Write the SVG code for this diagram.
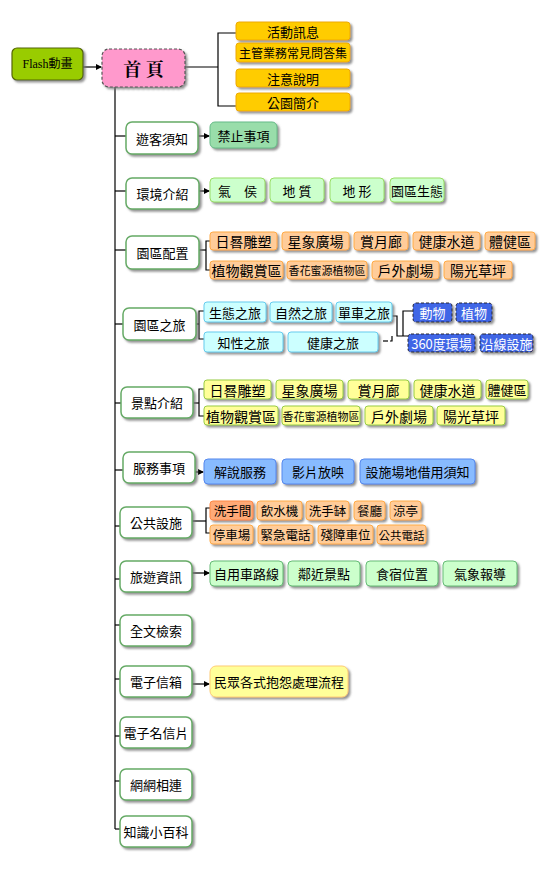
<svg xmlns="http://www.w3.org/2000/svg" width="548" height="870" viewBox="0 0 548 870">
<defs>
<filter id="sh" x="-10%" y="-10%" width="130%" height="140%">
<feDropShadow dx="2" dy="2" stdDeviation="0.8" flood-color="#777" flood-opacity="0.8"/>
</filter>
<marker id="ar" markerWidth="6" markerHeight="6" refX="5" refY="3" orient="auto" markerUnits="userSpaceOnUse">
<path d="M0,0 L6,3 L0,6 Z" fill="#000"/>
</marker>
<style>
text{font-family:"Noto Sans CJK TC","Noto Sans CJK SC",sans-serif;font-size:13px;fill:#000;text-anchor:middle;dominant-baseline:central}
rect{filter:url(#sh)}
.main{fill:#fff;stroke:#66aa66;stroke-width:1.5}
.yel{fill:#ffcc00;stroke:#eeaa00}
.grn1{fill:#99ddaa;stroke:#66bb88}
.grn2{fill:#ccffcc;stroke:#99dd66}
.grn3{fill:#ccffcc;stroke:#66bb77}
.org{fill:#ffcc99;stroke:#ffaa44}
.org2{fill:#ffaa77;stroke:#ff8844}
.cyan{fill:#ccffff;stroke:#66ccee}
.blue{fill:#3f66e6;stroke:#223;stroke-dasharray:3 2}
.lyel{fill:#ffff99;stroke:#99cc44}
.lyel2{fill:#ffff99;stroke:#ffcc77}
.lblue{fill:#88bbff;stroke:#5588ee}
.w{fill:#fff}
.big{font-size:14px}
.pf{font-size:12.5px}
#conn path,#conn line{fill:none;stroke:#000;stroke-width:1.2}
</style>
</defs>
<rect width="548" height="870" fill="#fff" style="filter:none"/>

<g id="conn">
<line x1="83" y1="67" x2="101" y2="67" marker-end="url(#ar)"/>
<path d="M185,67 H218"/>
<path d="M236,33 H218 V106 H236"/>
<path d="M115,87 V829"/>
<path d="M115,136 H126"/>
<path d="M115,191 H126"/>
<path d="M115,250 H126"/>
<path d="M115,324 H123"/>
<path d="M115,403 H121"/>
<path d="M115,470 H123"/>
<path d="M115,526 H120"/>
<path d="M115,579 H120"/>
<path d="M115,625 H120"/>
<path d="M115,679 H120"/>
<path d="M115,736 H120"/>
<path d="M115,781 H120"/>
<path d="M115,829 H120"/>
<line x1="198" y1="136" x2="209" y2="136" marker-end="url(#ar)"/>
<line x1="199" y1="191" x2="209" y2="191" marker-end="url(#ar)"/>
<path d="M199,250 H206"/>
<path d="M210,241 H206 V270 H210"/>
<path d="M196,324 H199"/>
<path d="M204,311 H199 V339 H204"/>
<path d="M392,316 H397 V336 H408"/>
<path d="M413,311 H403 V336"/>
<path d="M383,341 H388"/>
<path d="M390,341 H392 V336"/>
<path d="M193,403 H199"/>
<path d="M204,389 H199 V416 H204"/>
<line x1="195" y1="472" x2="203" y2="472" marker-end="url(#ar)"/>
<path d="M192,521 H206"/>
<path d="M210,508 H206 V533 H210"/>
<line x1="192" y1="573" x2="209" y2="573" marker-end="url(#ar)"/>
<line x1="192" y1="684" x2="209" y2="684" marker-end="url(#ar)"/>
</g>

<g id="flash"><rect x="12" y="48" width="71" height="32" rx="5" fill="#99cc00" stroke="#556600" stroke-width="1.2"/><text x="47.5" y="64" style="font-family:'Liberation Serif','Noto Sans CJK TC',serif;font-size:12px">Flash動畫</text></g>
<g id="home"><rect x="102" y="49" width="83" height="38" rx="7" fill="#ff99cc" stroke="#555" stroke-dasharray="3 2" stroke-width="1.2"/><text x="143.5" y="68" style="font-size:18px;font-weight:bold;font-family:'Noto Serif CJK TC','Noto Sans CJK TC',serif">首 頁</text></g>

<g id="y1"><rect class="yel" x="236" y="22" width="114" height="18" rx="3"/><text x="293" y="31">活動訊息</text></g>
<g id="y2"><rect class="yel" x="236" y="43" width="114" height="19" rx="3"/><text x="293" y="52.5" style="font-size:12px">主管業務常見問答集</text></g>
<g id="y3"><rect class="yel" x="236" y="69" width="114" height="18" rx="3"/><text x="293" y="78">注意說明</text></g>
<g id="y4"><rect class="yel" x="236" y="93" width="114" height="18" rx="3"/><text x="293" y="102">公園簡介</text></g>

<g id="m1"><rect class="main" x="126" y="122" width="72" height="32" rx="6"/><text x="162" y="138">遊客須知</text></g>
<g id="c1"><rect class="grn1" x="210" y="122" width="67" height="26" rx="5"/><text x="243.5" y="135">禁止事項</text></g>

<g id="m2"><rect class="main" x="126" y="178" width="73" height="31" rx="6"/><text x="162.5" y="193.5">環境介紹</text></g>
<g id="c2a"><rect class="grn2" x="210" y="178" width="55" height="24" rx="4"/><text x="237.5" y="190">氣　侯</text></g>
<g id="c2b"><rect class="grn2" x="270" y="178" width="54" height="24" rx="4"/><text x="297" y="190">地 質</text></g>
<g id="c2c"><rect class="grn2" x="330" y="178" width="54" height="24" rx="4"/><text x="357" y="190">地 形</text></g>
<g id="c2d"><rect class="grn2" x="390" y="178" width="54" height="24" rx="4"/><text x="417" y="190">園區生態</text></g>

<g id="m3"><rect class="main" x="126" y="236" width="73" height="33" rx="6"/><text x="162.5" y="252.5">園區配置</text></g>
<g id="c3a"><rect class="org" x="210" y="232" width="67" height="18" rx="3"/><text class="big" x="243.5" y="241">日晷雕塑</text></g>
<g id="c3b"><rect class="org" x="282" y="232" width="67" height="18" rx="3"/><text class="big" x="315.5" y="241">星象廣場</text></g>
<g id="c3c"><rect class="org" x="354" y="232" width="54" height="18" rx="3"/><text class="big" x="381" y="241">賞月廊</text></g>
<g id="c3d"><rect class="org" x="413" y="232" width="67" height="18" rx="3"/><text class="big" x="446.5" y="241">健康水道</text></g>
<g id="c3e"><rect class="org" x="485" y="232" width="50" height="18" rx="3"/><text class="big" x="510" y="241">體健區</text></g>
<g id="c3f"><rect class="org" x="210" y="261" width="73" height="18" rx="3"/><text class="big" x="246.5" y="270">植物觀賞區</text></g>
<g id="c3g"><rect class="org" x="287" y="261" width="80" height="18" rx="3"/><text x="327" y="270" style="font-size:11px">香花蜜源植物區</text></g>
<g id="c3h"><rect class="org" x="372" y="261" width="67" height="18" rx="3"/><text class="big" x="405.5" y="270">戶外劇場</text></g>
<g id="c3i"><rect class="org" x="444" y="261" width="68" height="18" rx="3"/><text class="big" x="478" y="270">陽光草坪</text></g>

<g id="m4"><rect class="main" x="123" y="308" width="73" height="32" rx="6"/><text x="159.5" y="324">園區之旅</text></g>
<g id="c4a"><rect class="cyan" x="204" y="302" width="62" height="20" rx="3"/><text x="235" y="312">生態之旅</text></g>
<g id="c4b"><rect class="cyan" x="270" y="302" width="62" height="20" rx="3"/><text x="301" y="312">自然之旅</text></g>
<g id="c4c"><rect class="cyan" x="336" y="302" width="56" height="20" rx="3"/><text x="364" y="312">單車之旅</text></g>
<g id="c4d"><rect class="cyan" x="204" y="332" width="79" height="20" rx="3"/><text x="243.5" y="342">知性之旅</text></g>
<g id="c4e"><rect class="cyan" x="288" y="332" width="90" height="20" rx="3"/><text x="333" y="342">健康之旅</text></g>
<g id="b1"><rect class="blue" x="413" y="303" width="39" height="19" rx="3"/><text class="w" x="432.5" y="312.5">動物</text></g>
<g id="b2"><rect class="blue" x="456" y="303" width="36" height="19" rx="3"/><text class="w" x="474" y="312.5">植物</text></g>
<g id="b3"><rect class="blue" x="408" y="334" width="67" height="18" rx="3"/><text class="w" x="441.5" y="343">360度環場</text></g>
<g id="b4"><rect class="blue" x="480" y="334" width="53" height="18" rx="3"/><text class="w" x="506.5" y="343">沿線設施</text></g>

<g id="m5"><rect class="main" x="121" y="387" width="72" height="31" rx="6"/><text x="157" y="402.5">景點介紹</text></g>
<g id="c5a"><rect class="lyel" x="204" y="380" width="67" height="19" rx="3"/><text class="big" x="237.5" y="389.5">日晷雕塑</text></g>
<g id="c5b"><rect class="lyel" x="276" y="380" width="67" height="19" rx="3"/><text class="big" x="309.5" y="389.5">星象廣場</text></g>
<g id="c5c"><rect class="lyel" x="348" y="380" width="61" height="19" rx="3"/><text class="big" x="378.5" y="389.5">賞月廊</text></g>
<g id="c5d"><rect class="lyel" x="414" y="380" width="67" height="19" rx="3"/><text class="big" x="447.5" y="389.5">健康水道</text></g>
<g id="c5e"><rect class="lyel" x="486" y="380" width="42" height="19" rx="3"/><text x="507" y="389.5">體健區</text></g>
<g id="c5f"><rect class="lyel" x="204" y="406" width="74" height="19" rx="3"/><text class="big" x="241" y="415.5">植物觀賞區</text></g>
<g id="c5g"><rect class="lyel" x="282" y="406" width="78" height="19" rx="3"/><text x="321" y="415.5" style="font-size:11px">香花蜜源植物區</text></g>
<g id="c5h"><rect class="lyel" x="365" y="406" width="68" height="19" rx="3"/><text class="big" x="399" y="415.5">戶外劇場</text></g>
<g id="c5i"><rect class="lyel" x="437" y="406" width="68" height="19" rx="3"/><text class="big" x="471" y="415.5">陽光草坪</text></g>

<g id="m6"><rect class="main" x="123" y="452" width="72" height="31" rx="6"/><text x="159" y="467.5">服務事項</text></g>
<g id="c6a"><rect class="lblue" x="204" y="459" width="72" height="25" rx="4"/><text x="240" y="471.5">解說服務</text></g>
<g id="c6b"><rect class="lblue" x="282" y="459" width="72" height="25" rx="4"/><text x="318" y="471.5">影片放映</text></g>
<g id="c6c"><rect class="lblue" x="360" y="459" width="115" height="25" rx="4"/><text x="417.5" y="471.5">設施場地借用須知</text></g>

<g id="m7"><rect class="main" x="120" y="507" width="72" height="31" rx="6"/><text x="156" y="522.5">公共設施</text></g>
<g id="c7a"><rect class="org2" x="210" y="501" width="43" height="19" rx="3"/><text class="pf" x="232.5" y="510.5">洗手間</text></g>
<g id="c7b"><rect class="org" x="257" y="501" width="45" height="19" rx="3"/><text class="pf" x="279.5" y="510.5">飲水機</text></g>
<g id="c7c"><rect class="org" x="306" y="501" width="43" height="19" rx="3"/><text class="pf" x="327.5" y="510.5">洗手缽</text></g>
<g id="c7d"><rect class="org" x="354" y="501" width="31" height="19" rx="3"/><text class="pf" x="369.5" y="510.5">餐廳</text></g>
<g id="c7e"><rect class="org" x="390" y="501" width="31" height="19" rx="3"/><text class="pf" x="405.5" y="510.5">涼亭</text></g>
<g id="c7f"><rect class="org" x="210" y="525" width="43" height="19" rx="3"/><text class="pf" x="231.5" y="534.5">停車場</text></g>
<g id="c7g"><rect class="org" x="258" y="525" width="55" height="19" rx="3"/><text class="pf" x="285.5" y="534.5">緊急電話</text></g>
<g id="c7h"><rect class="org" x="318" y="525" width="55" height="19" rx="3"/><text class="pf" x="345.5" y="534.5">殘障車位</text></g>
<g id="c7i"><rect class="org" x="377" y="525" width="49" height="19" rx="3"/><text x="401.5" y="534.5" style="font-size:11.5px">公共電話</text></g>

<g id="m8"><rect class="main" x="120" y="561" width="72" height="31" rx="6"/><text x="156" y="576.5">旅遊資訊</text></g>
<g id="c8a"><rect class="grn3" x="210" y="561" width="73" height="25" rx="4"/><text x="246.5" y="573.5">自用車路線</text></g>
<g id="c8b"><rect class="grn3" x="288" y="561" width="72" height="25" rx="4"/><text x="324" y="573.5">鄰近景點</text></g>
<g id="c8c"><rect class="grn3" x="366" y="561" width="72" height="25" rx="4"/><text x="402" y="573.5">食宿位置</text></g>
<g id="c8d"><rect class="grn3" x="443" y="561" width="74" height="25" rx="4"/><text x="480" y="573.5">氣象報導</text></g>

<g id="m9"><rect class="main" x="120" y="615" width="72" height="31" rx="6"/><text x="156" y="630.5">全文檢索</text></g>
<g id="m10"><rect class="main" x="120" y="666" width="72" height="31" rx="6"/><text x="156" y="681.5">電子信箱</text></g>
<g id="c10"><rect class="lyel2" x="210" y="666" width="138" height="31" rx="6"/><text x="279" y="681.5">民眾各式抱怨處理流程</text></g>
<g id="m11"><rect class="main" x="120" y="717" width="72" height="31" rx="6"/><text x="156" y="732.5">電子名信片</text></g>
<g id="m12"><rect class="main" x="120" y="769" width="72" height="31" rx="6"/><text x="156" y="784.5">網網相連</text></g>
<g id="m13"><rect class="main" x="120" y="816" width="72" height="31" rx="6"/><text x="156" y="831.5">知識小百科</text></g>
</svg>
